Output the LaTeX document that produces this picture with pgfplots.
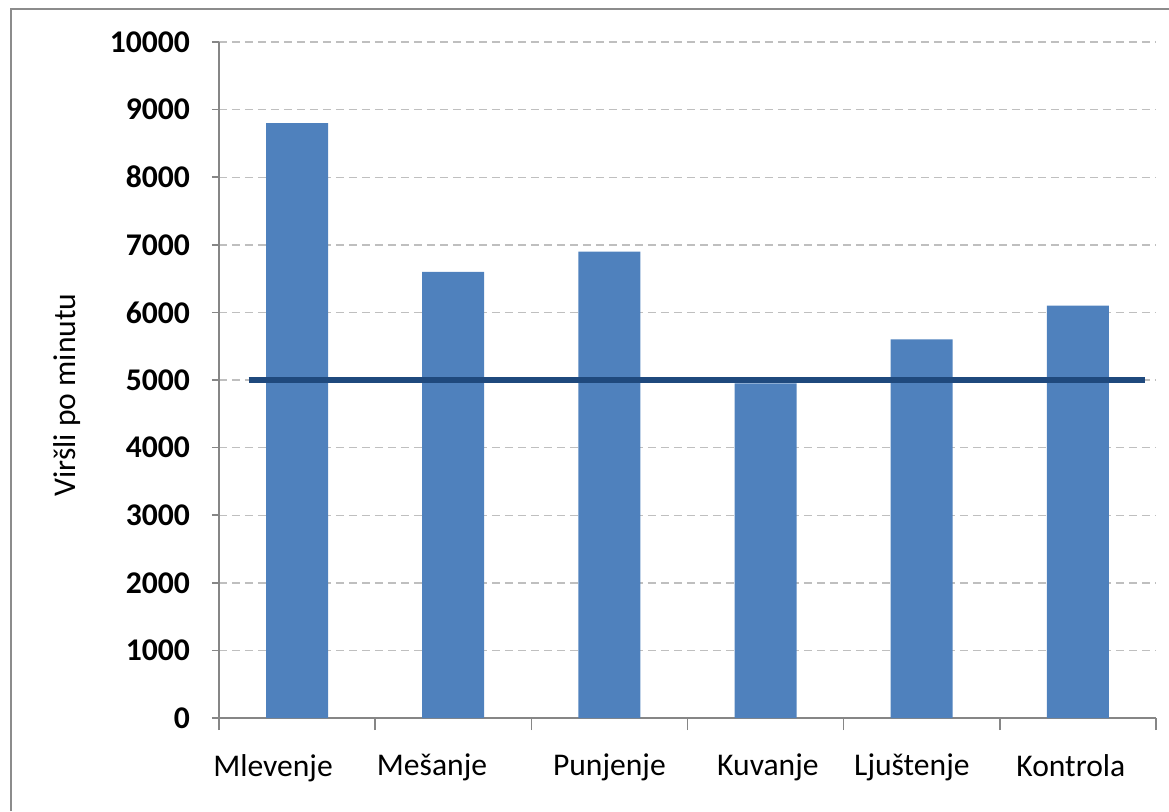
\documentclass[border=0pt]{standalone}
\usepackage{pgfplots}
\pgfplotsset{compat=1.18}
\usepackage{fontspec}
\setmainfont{Carlito}
\definecolor{barblue}{HTML}{4F81BD}
\definecolor{linedark}{HTML}{1F497D}
\definecolor{axisgray}{HTML}{868686}
\definecolor{gridgray}{HTML}{BFBFBF}
\definecolor{framegray}{HTML}{8C8C8C}
\begin{document}
\begin{tikzpicture}
\useasboundingbox (-109.5pt,-46.5pt) rectangle (475pt,359pt);
\begin{axis}[
  at={(0,0)}, anchor=south west,
  scale only axis,
  width=468.5pt, height=338pt,
  xmin=-0.5, xmax=5.5,
  ymin=0, ymax=10000,
  ytick={0,1000,...,10000},
  scaled y ticks=false,
  xtick={-0.154,0.864,2,3.015,3.937,4.955},
  xticklabels={Mlevenje,Mešanje,Punjenje,Kuvanje,Ljuštenje,Kontrola},
  minor xtick={-0.5,0.5,1.5,2.5,3.5,4.5,5.5},
  axis x line*=bottom,
  axis y line*=left,
  axis line style={axisgray, line width=0.8pt, -},
  tick align=outside,
  major tick length=3.5pt,
  minor tick length=6pt,
  xtick style={draw=none},
  minor x tick style={draw=axisgray, line width=0.8pt},
  ytick style={draw=axisgray, line width=0.8pt},
  ymajorgrids,
  major grid style={gridgray, line width=0.7pt, dash pattern=on 4pt off 2.5pt},
  /pgf/number format/1000 sep={},
  /pgf/number format/assume math mode=true,
  font=\fontsize{15.8pt}{18pt}\selectfont,
  yticklabel style={font=\fontsize{15.8pt}{18pt}\selectfont\bfseries, xshift=-7.5pt},
  xticklabel style={yshift=-11pt},
  ylabel={Viršli po minutu},
  every axis y label/.style={at={(axis description cs:0,0.478)}, xshift=-76pt, rotate=90, anchor=center},
]
\addplot[ybar, bar width=31pt, fill=barblue, draw=none] coordinates {
  (0,8800) (1,6600) (2,6900) (3,4950) (4,5600) (5,6100)
};
\addplot[color=linedark, line width=2.8pt, mark=none] coordinates {
  (-0.31,5000) (5.43,5000)
};
\end{axis}
\draw[framegray, line width=1pt] (-104pt,-46.5pt) -- (-104pt,354.5pt) -- (475pt,354.5pt);
\end{tikzpicture}
\end{document}
